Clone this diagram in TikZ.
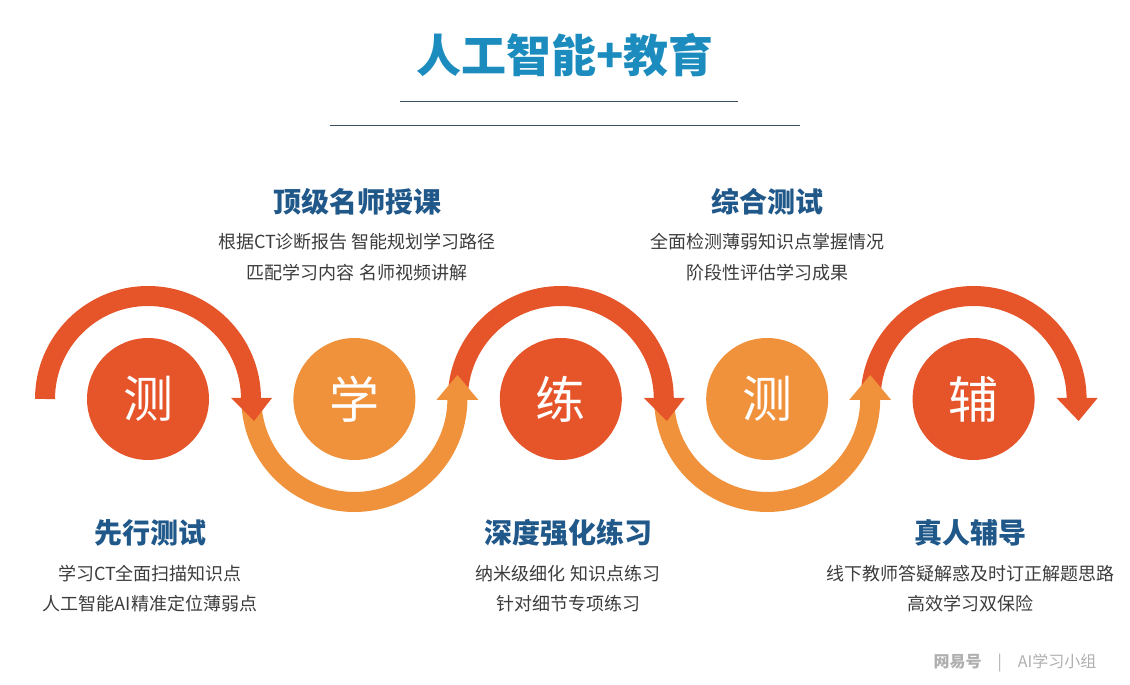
\documentclass[tikz,border=0pt]{standalone}
\usepackage{fontspec}
\setmainfont{Noto Sans CJK SC}
\usepackage{xcolor}
\usetikzlibrary{positioning,calc}
\definecolor{titleblue}{RGB}{28,140,190}
\definecolor{headblue}{RGB}{32,88,138}
\definecolor{bodygray}{RGB}{60,60,60}
\definecolor{rulegray}{RGB}{60,80,95}
\definecolor{arcred}{RGB}{230,84,42}
\definecolor{arcorange}{RGB}{240,145,60}
\definecolor{markgray}{RGB}{175,175,175}

\begin{document}
\begin{tikzpicture}[
  x=1pt, y=1pt,
  node distance = 84pt,
  ball/.style = {
    circle, minimum size=122pt, inner sep=0pt,
    text=white, font=\fontsize{50}{50}\selectfont
  },
  redball/.style = {ball, fill=arcred},
  orangeball/.style = {ball, fill=arcorange},
  redband/.style = {line width=20pt, arcred},
  orangeband/.style = {line width=20pt, arcorange},
  headtext/.style = {text=headblue, font=\fontsize{28}{28}\selectfont\bfseries},
  bodytext/.style = {text=bodygray, font=\fontsize{18}{18}\selectfont}
]
  \useasboundingbox (0,0) rectangle (1130,685);

  % title and rules
  \node[text=titleblue, font=\fontsize{45}{45}\selectfont\bfseries] (title) at (565,630) {人工智能+教育};
  \draw[rulegray, line width=0.8pt] (400,584) -- (738,584);
  \draw[rulegray, line width=0.8pt] (330,560) -- (800,560);

  % the five steps
  \node[redball] (ce1) at (148,286) {测};
  \node[orangeball, right=of ce1] (xue) {学};
  \node[redball, right=of xue] (lian) {练};
  \node[orangeball, right=of lian] (ce2) {测};
  \node[redball, right=of ce2] (fu) {辅};

  % arc bands
  \draw[redband] ($(ce1)+(-103pt,0)$) arc (180:0:103pt);
  \draw[redband] ($(lian)+(-103pt,0)$) arc (180:0:103pt);
  \draw[redband] ($(fu)+(-103pt,0)$) arc (180:0:103pt);
  \draw[orangeband] ($(xue)+(-103pt,0)$) arc (180:360:103pt);
  \draw[orangeband] ($(ce2)+(-103pt,0)$) arc (180:360:103pt);

  % arrow heads
  \fill[arcred] ($(ce1)+(83pt,1pt)$) -- ($(ce1)+(124pt,1pt)$) -- ($(ce1)+(106pt,-22pt)$) -- cycle;
  \fill[arcred] ($(lian)+(83pt,1pt)$) -- ($(lian)+(124pt,1pt)$) -- ($(lian)+(106pt,-22pt)$) -- cycle;
  \fill[arcred] ($(fu)+(83pt,1pt)$) -- ($(fu)+(124pt,1pt)$) -- ($(fu)+(105pt,-22pt)$) -- cycle;
  \fill[arcorange] ($(xue)+(82pt,-1pt)$) -- ($(xue)+(124pt,-1pt)$) -- ($(xue)+(103pt,24pt)$) -- cycle;
  \fill[arcorange] ($(ce2)+(82pt,-1pt)$) -- ($(ce2)+(124pt,-1pt)$) -- ($(ce2)+(103pt,24pt)$) -- cycle;

  % upper captions
  \node[headtext] (h2) at (357,483) {顶级名师授课};
  \node[bodytext] (h2a) at (357,443) {根据CT诊断报告 智能规划学习路径};
  \node[bodytext] (h2b) at (357,412) {匹配学习内容 名师视频讲解};
  \node[headtext] (h4) at (767,483) {综合测试};
  \node[bodytext] (h4a) at (767,443) {全面检测薄弱知识点掌握情况};
  \node[bodytext] (h4b) at (767,412) {阶段性评估学习成果};

  % lower captions
  \node[headtext] (h1) at (150,152) {先行测试};
  \node[bodytext] (h1a) at (150,111) {学习CT全面扫描知识点};
  \node[bodytext] (h1b) at (150,81) {人工智能AI精准定位薄弱点};
  \node[headtext] (h3) at (568,152) {深度强化练习};
  \node[bodytext] (h3a) at (568,111) {纳米级细化 知识点练习};
  \node[bodytext] (h3b) at (568,81) {针对细节专项练习};
  \node[headtext] (h5) at (970,152) {真人辅导};
  \node[bodytext] (h5a) at (970,111) {线下教师答疑解惑及时订正解题思路};
  \node[bodytext] (h5b) at (970,81) {高效学习双保险};

  \node[text=markgray, font=\fontsize{16}{16}\selectfont] (mark) at (1015,22) {\textbf{网易号}\quad|\quad AI学习小组};
\end{tikzpicture}
\end{document}
